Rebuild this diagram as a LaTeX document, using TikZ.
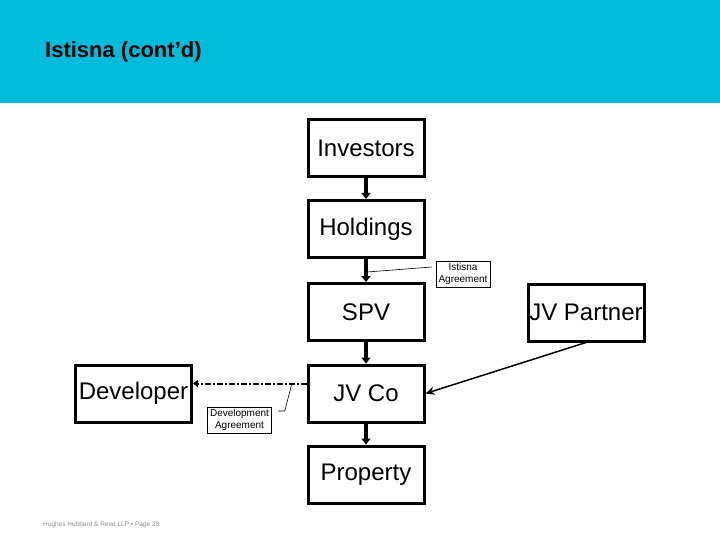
\documentclass[tikz,border=0pt]{standalone}
\usepackage{fontspec}
\setmainfont{Liberation Sans}
\usepackage{tikz}
\usetikzlibrary{arrows.meta,positioning}
\definecolor{headerCyan}{HTML}{00BCD9}
\definecolor{footGray}{HTML}{8C8C8C}

\begin{document}
\begin{tikzpicture}[x=1pt,y=-1pt,
  entity/.style={draw,line width=3pt,minimum width=116pt,minimum height=57pt,inner sep=0pt,font=\fontsize{24}{26}\selectfont},
  tag/.style={draw,line width=0.6pt,align=center,inner sep=2.5pt,font=\fontsize{10}{12}\selectfont},
  flow/.style={line width=4pt,-{Triangle[width=9pt,length=6pt]}},
  devline/.style={line width=2pt,dash pattern=on 6pt off 2pt on 2pt off 2pt,-{Triangle[width=7pt,length=5pt]}},
  partline/.style={line width=1.5pt,-{Stealth[width=8pt,length=9pt]}}]
  \useasboundingbox (0,0) rectangle (720,540);
  \fill[white] (0,0) rectangle (720,540);
  % Header band
  \fill[headerCyan] (0,0) rectangle (720,103);
  \node[anchor=west,inner sep=0pt,font=\fontsize{22}{24}\selectfont\bfseries] (title) at (45,52) {Istisna (cont’d)};

  % Main chain
  \node[entity] (investors) at (366,148.5) {Investors};
  \node[entity] (holdings) at (366,229) {Holdings};
  \node[entity] (spv) at (366,312) {SPV};
  \node[entity] (jvco) at (366,393.5) {JV Co};
  \node[entity] (property) at (366,474.5) {Property};
  \node[entity] (jvpartner) at (586,312.5) {JV Partner};
  \node[entity] (developer) at (133.5,393.5) {Developer};

  \draw[flow] (investors) -- (holdings);
  \draw[flow] (holdings) -- (spv);
  \draw[flow] (spv) -- (jvco);
  \draw[flow] (jvco) -- (property);
  \draw[partline] (jvpartner.south) -- (jvco.east);
  \draw[devline] ([yshift=10pt]jvco.west) -- ([yshift=10pt]developer.east);

  % Agreement labels
  \node[tag] (istisna) at (463,274) {Istisna\\Agreement};
  \coordinate (istisnaPt) at (367,272);
  \draw[line width=0.6pt] ([shift={(-4,-7)}]istisna.west) -- (istisnaPt);

  \node[tag] (devagr) at (239.5,420) {Development\\Agreement};
  \coordinate (devPt) at (292,383);
  \draw[line width=0.6pt] ([shift={(6,-9)}]devagr.east) -- ++(7,0) -- (devPt);

  % Footer
  \node[anchor=west,inner sep=0pt,text=footGray,font=\fontsize{6.5}{7}\selectfont] (footer) at (43,525) {Hughes Hubbard \& Reed LLP • Page 28};
\end{tikzpicture}
\end{document}
